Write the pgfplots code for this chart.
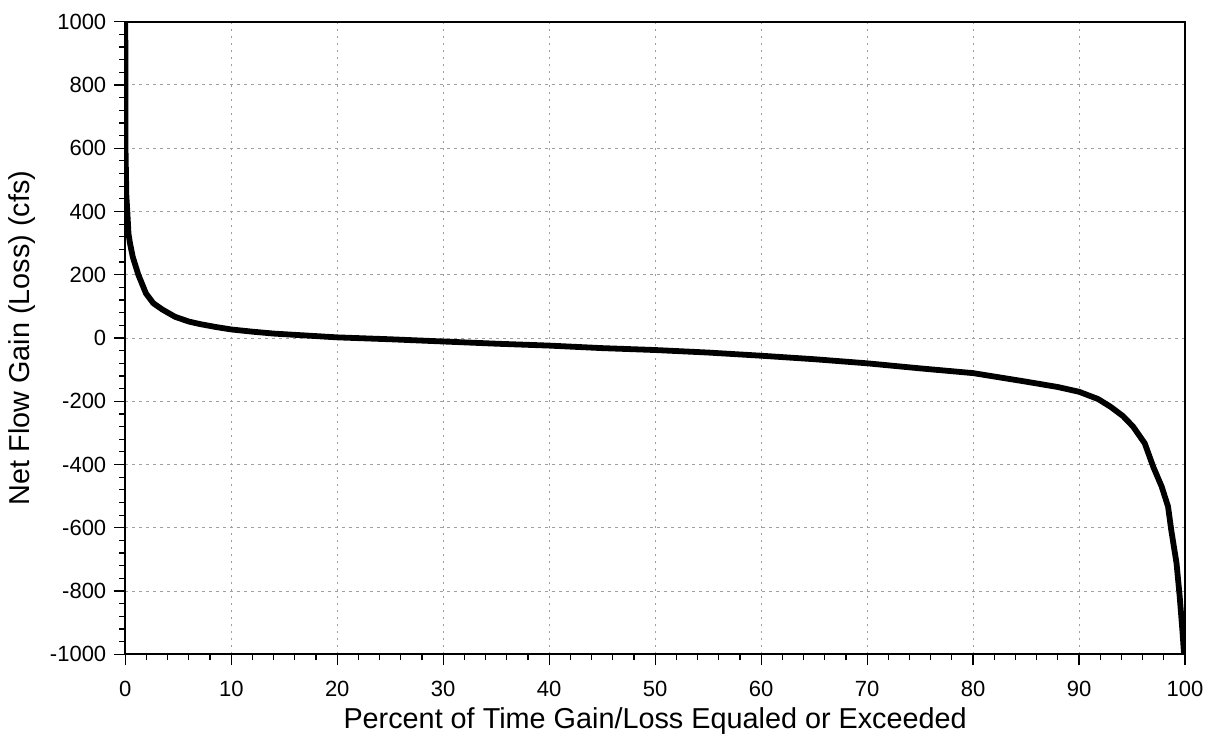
\documentclass[border=0pt]{standalone}
\usepackage{fontspec}
\setmainfont{Liberation Sans}
\usepackage{pgfplots}
\pgfplotsset{compat=1.18}
\begin{document}
\begin{tikzpicture}
\useasboundingbox (0,0) rectangle (604pt,367.5pt);
\begin{axis}[
  at={(62.65pt,40.35pt)}, anchor=south west,
  scale only axis, width=529.85pt, height=316.3pt,
  xmin=0, xmax=100, ymin=-1000, ymax=1000,
  xtick={0,10,...,100}, ytick={-1000,-800,...,1000},
  minor x tick num=4, minor y tick num=4,
  tick align=outside,
  major tick length=5.5pt, minor tick length=3pt,
  tick style={black, line width=0.6pt},
  xtick pos=bottom, ytick pos=left,
  /pgf/number format/assume math mode=true,
  /pgf/number format/1000 sep={},
  ticklabel style={font=\fontsize{11}{13}\selectfont},
  xticklabel style={yshift=-4.5pt},
  yticklabel style={xshift=-0.5pt},
  label style={font=\fontsize{14.4}{16}\selectfont},
  xlabel={Percent of Time Gain/Loss Equaled or Exceeded},
  ylabel={Net Flow Gain (Loss) (cfs)},
  xlabel style={yshift=1.5pt},
  ylabel style={yshift=0.5pt},
  grid=major,
  major grid style={gray!75, line width=0.5pt, dash pattern=on 1.2pt off 2.3pt},
  axis line style={black, line width=1pt},
  clip=true,
]
\addplot[black, line width=2.9pt, line join=round, line cap=round] coordinates {
(0,1050) (0.02,600) (0.1,450) (0.19,400) (0.3,330) (0.44,300) (0.7,257)
(1.23,200) (1.95,141) (2.64,110) (3.5,90) (4.7,67) (6.0,52) (7.05,44)
(8.5,35) (10,27) (12,20) (14,14) (16.5,9) (20,2) (25,-4) (30,-11)
(35,-18) (40,-24) (45,-32) (50,-38) (55,-46) (60,-56) (65,-67) (70,-80)
(75,-96) (80,-111) (85,-138) (88,-155) (90,-170) (91.8,-193) (93,-218)
(94.15,-247) (95.1,-280) (96.2,-333) (97.0,-407) (97.8,-470) (98.4,-533)
(98.7,-607) (99.2,-712) (99.5,-818) (99.75,-923) (99.9,-996) (100,-1050)
};
\end{axis}
\end{tikzpicture}
\end{document}
